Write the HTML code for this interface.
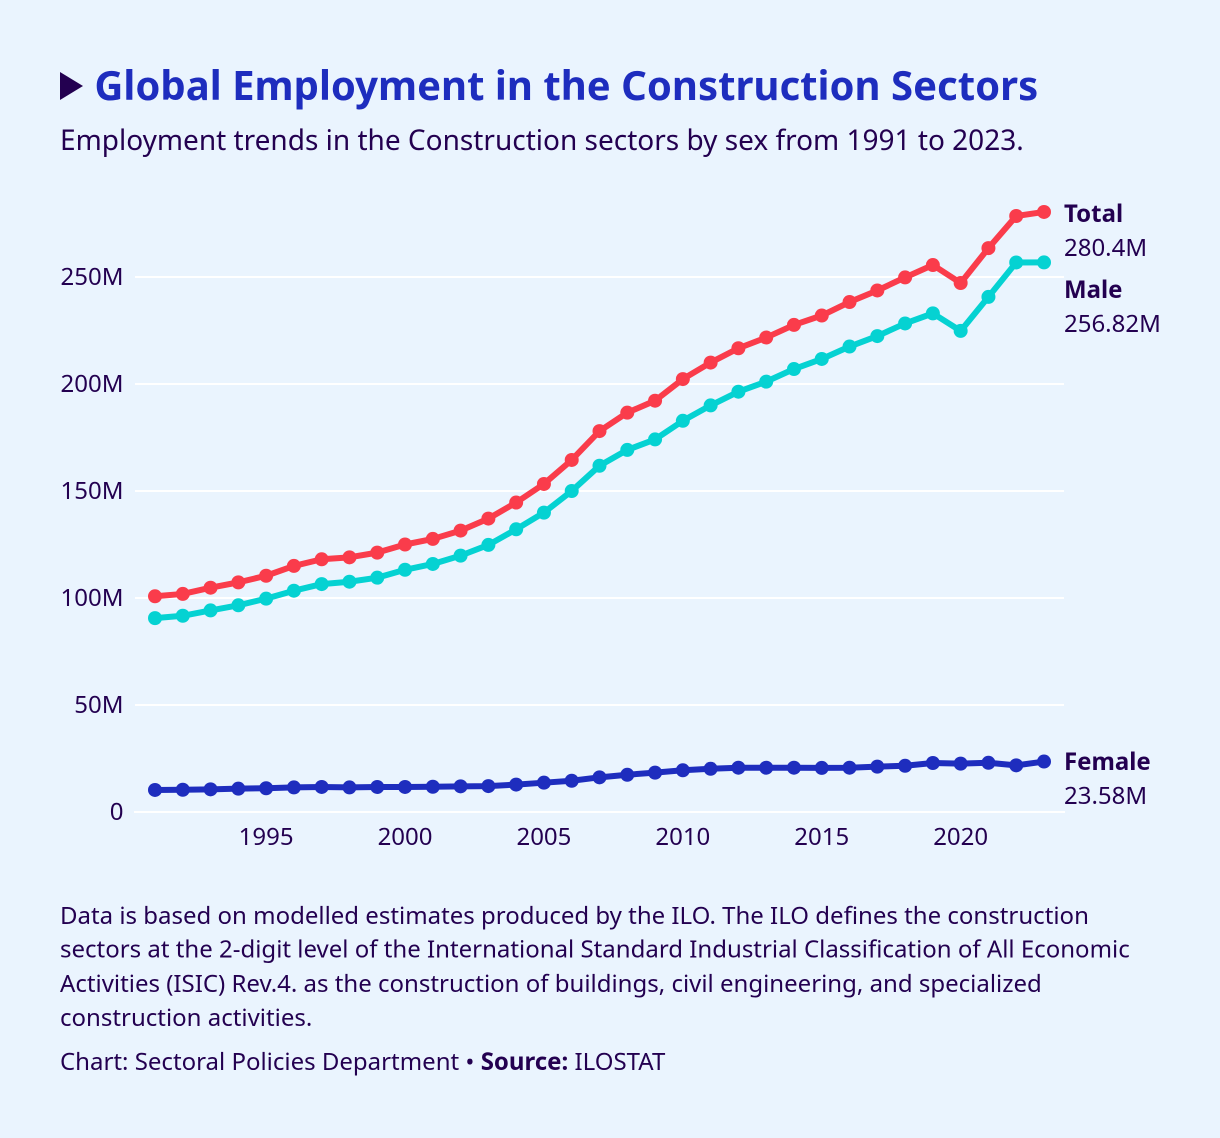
<!DOCTYPE html>
<html lang="en">
<head>
<meta charset="utf-8">
<title>Global Employment in the Construction Sectors</title>
<style>
html,body{margin:0;padding:0;background:#eaf4fe;width:1220px;height:1138px;overflow:hidden}
svg{display:block}
text{font-family:"Noto Sans","DejaVu Sans","Liberation Sans",sans-serif;fill:#230050}
.tick{font-size:24px}
.lab{font-size:24px}
.foot{font-size:24px}
</style>
</head>
<body>
<svg id="chart" width="1220" height="1138" viewBox="0 0 1220 1138" xmlns="http://www.w3.org/2000/svg">
<rect width="1220" height="1138" fill="#eaf4fe"/>
<polygon points="60,72 83,86 60,100" fill="#230050"/>
<text x="94.4" y="100" font-size="40.08" font-weight="700" style="fill:#1e2dbe">Global Employment in the Construction Sectors</text>
<text x="60" y="150" font-size="28">Employment trends in the Construction sectors by sex from 1991 to 2023.</text>
<g id="grid"></g><g id="xticks"></g><g id="marks"></g><g id="labels"></g>
<text class="foot" x="60" y="924">Data is based on modelled estimates produced by the ILO. The ILO defines the construction</text>
<text class="foot" x="60" y="957.5">sectors at the 2-digit level of the International Standard Industrial Classification of All Economic</text>
<text class="foot" x="60" y="992">Activities (ISIC) Rev.4. as the construction of buildings, civil engineering, and specialized</text>
<text class="foot" x="60" y="1026">construction activities.</text>
<text class="foot" x="60" y="1070">Chart: Sectoral Policies Department • <tspan font-weight="700">Source:</tspan> ILOSTAT</text>
</svg>
<script>
const years = [1991,1992,1993,1994,1995,1996,1997,1998,1999,2000,2001,2002,2003,2004,2005,2006,2007,2008,2009,2010,2011,2012,2013,2014,2015,2016,2017,2018,2019,2020,2021,2022,2023];
const totalValues = [100.8,101.9,104.8,107.3,110.4,115,118.1,119,121.2,125,127.6,131.5,137.1,144.6,153.3,164.5,178,186.6,192.2,202.3,210,216.7,221.7,227.6,232,238.3,243.7,249.8,255.6,247.2,263.5,278.5,280.4];
const maleValues = [90.6,91.7,94.2,96.6,99.7,103.4,106.5,107.6,109.5,113.2,115.9,119.8,124.8,132.1,139.9,150,161.8,169.2,174.1,182.8,190,196.4,201.1,207,211.7,217.5,222.4,228.3,233,224.8,240.7,256.8,256.82];
const femaleValues = [10.3,10.4,10.6,10.9,11.1,11.5,11.7,11.5,11.7,11.7,11.8,12,12.1,12.8,13.7,14.6,16.2,17.4,18.4,19.5,20.2,20.7,20.7,20.7,20.6,20.7,21.2,21.6,22.9,22.6,23,21.8,23.58];
const yTicks = [0,50,100,150,200,250];
const yTickLabels = ['0','50M','100M','150M','200M','250M'];
const xTicks = [1995,2000,2005,2010,2015,2020];
const seriesNames = ['Male','Total','Female'];
const seriesPrinted = ['256.82M','280.4M','23.58M'];

const NS = 'http://www.w3.org/2000/svg';
const xScale = y => 155 + (y - 1991) * (1044 - 155) / (2023 - 1991);
const yScale = v => 812 - v * 2.14;
function mk(tag, attrs, parent, txt) {
  const el = document.createElementNS(NS, tag);
  for (const k in attrs) el.setAttribute(k, attrs[k]);
  if (txt !== undefined) el.textContent = txt;
  parent.appendChild(el);
  return el;
}
const grid = document.getElementById('grid');
yTicks.forEach((t, i) => {
  const line = mk('line', {x1: t === 0 ? 134 : 135, x2: t === 0 ? 1065 : 1064, y1: yScale(t), y2: yScale(t), stroke: '#ffffff', 'stroke-width': 2}, grid);
  
  
  const lab = mk('text', {x: 123.5, y: yScale(t) + 8, 'text-anchor': 'end', class: 'tick'}, grid, yTickLabels[i]);
  
  
});
const xg = document.getElementById('xticks');
xTicks.forEach(t => {
  const lab = mk('text', {x: xScale(t), y: 845, 'text-anchor': 'middle', class: 'tick'}, xg, t);
  
  
});
const marks = document.getElementById('marks');
function drawSeries(name, vals, color) {
  const g = mk('g', {}, marks);
  
  
  const line = mk('polyline', {points: vals.map((v, i) => xScale(years[i]) + ',' + yScale(v)).join(' '), fill: 'none', stroke: color, 'stroke-width': 6, 'stroke-linejoin': 'round'}, g);
  
  
  vals.forEach((v, i) => {
    const c = mk('circle', {cx: xScale(years[i]), cy: yScale(v), r: 7, fill: color}, g);
    
    
  });
}
drawSeries('male', maleValues, '#05d2d2');
drawSeries('total', totalValues, '#fa3c4b');
drawSeries('female', femaleValues, '#1e2dbe');

const labels = document.getElementById('labels');
const lastY = [298, 222, 770];
seriesNames.forEach((n, i) => {
  const a = mk('text', {x: 1064, y: lastY[i], class: 'lab', 'font-weight': 700}, labels, n);
  
  
  const b = mk('text', {x: 1064, y: lastY[i] + 34, class: 'lab'}, labels, seriesPrinted[i]);
  
  
});
</script>
</body>
</html>
